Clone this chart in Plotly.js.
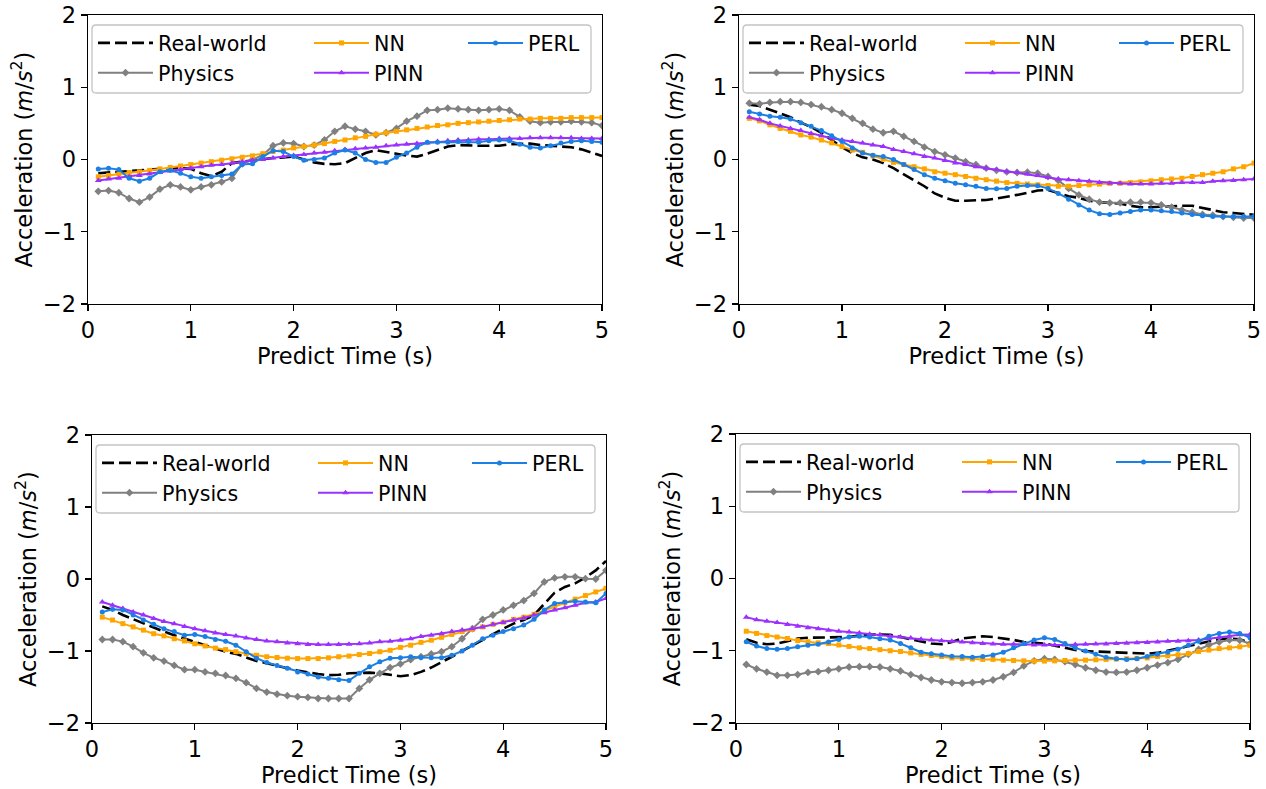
<!DOCTYPE html>
<html>
<head>
<meta charset="utf-8">
<script src="https://cdn.plot.ly/plotly-3.0.1.min.js"></script>
<style>html,body{margin:0;padding:0;background:#fff;}#chart{width:1266px;height:789px;}</style>
</head>
<body>
<div id="chart"></div>
<script>
// ---- data ----
const time = [0.1,0.2,0.3,0.4,0.5,0.6,0.7,0.8,0.9,1.0,1.1,1.2,1.3,1.4,1.5,1.6,1.7,1.8,1.9,2.0,2.1,2.2,2.3,2.4,2.5,2.6,2.7,2.8,2.9,3.0,3.1,3.2,3.3,3.4,3.5,3.6,3.7,3.8,3.9,4.0,4.1,4.2,4.3,4.4,4.5,4.6,4.7,4.8,4.9,5.0];
const seriesNames = ["Real-world","Physics","NN","PINN","PERL"];

const real1 = [-0.19,-0.18,-0.18,-0.17,-0.15,-0.14,-0.13,-0.12,-0.12,-0.13,-0.19,-0.23,-0.17,-0.05,-0.03,-0.01,0.0,0.02,0.03,0.04,0.0,-0.04,-0.06,-0.065,-0.05,0.02,0.09,0.13,0.11,0.08,0.055,0.04,0.08,0.13,0.18,0.2,0.19,0.19,0.19,0.19,0.21,0.22,0.22,0.2,0.19,0.18,0.17,0.14,0.09,0.05];
const phys1 = [-0.44,-0.43,-0.46,-0.54,-0.59,-0.52,-0.41,-0.35,-0.38,-0.42,-0.38,-0.35,-0.31,-0.26,-0.06,0.0,0.06,0.19,0.23,0.22,0.18,0.2,0.27,0.39,0.46,0.42,0.39,0.34,0.37,0.43,0.53,0.6,0.68,0.69,0.71,0.7,0.69,0.68,0.69,0.7,0.68,0.59,0.53,0.51,0.52,0.52,0.53,0.52,0.51,0.47];
const nn1 = [-0.24,-0.22,-0.2,-0.18,-0.17,-0.15,-0.13,-0.11,-0.09,-0.07,-0.05,-0.03,-0.01,0.01,0.03,0.05,0.08,0.11,0.13,0.16,0.18,0.2,0.22,0.25,0.27,0.3,0.32,0.35,0.37,0.39,0.41,0.43,0.45,0.47,0.48,0.5,0.51,0.52,0.53,0.54,0.55,0.56,0.56,0.57,0.57,0.57,0.58,0.58,0.58,0.58];
const pinn1 = [-0.29,-0.27,-0.26,-0.24,-0.22,-0.2,-0.18,-0.16,-0.14,-0.12,-0.1,-0.08,-0.07,-0.05,-0.03,-0.01,0.0,0.02,0.04,0.055,0.07,0.09,0.1,0.12,0.14,0.15,0.16,0.17,0.19,0.2,0.21,0.22,0.23,0.25,0.26,0.27,0.27,0.28,0.28,0.29,0.29,0.29,0.3,0.3,0.3,0.3,0.3,0.29,0.29,0.29];
const perl1 = [-0.13,-0.12,-0.14,-0.26,-0.3,-0.26,-0.17,-0.15,-0.19,-0.24,-0.26,-0.24,-0.22,-0.2,-0.07,-0.06,0.04,0.12,0.11,0.04,-0.01,0.0,0.02,0.09,0.13,0.09,0.0,-0.04,-0.04,0.03,0.09,0.17,0.24,0.24,0.24,0.25,0.25,0.24,0.26,0.27,0.26,0.21,0.17,0.16,0.19,0.23,0.25,0.26,0.25,0.24];

const real2 = [0.76,0.74,0.69,0.64,0.585,0.51,0.45,0.37,0.27,0.17,0.09,0.03,0.0,-0.05,-0.12,-0.21,-0.29,-0.37,-0.47,-0.53,-0.57,-0.57,-0.57,-0.56,-0.54,-0.52,-0.49,-0.46,-0.43,-0.42,-0.46,-0.51,-0.53,-0.57,-0.59,-0.6,-0.61,-0.64,-0.66,-0.66,-0.65,-0.64,-0.64,-0.64,-0.67,-0.71,-0.73,-0.74,-0.75,-0.765];
const phys2 = [0.78,0.77,0.79,0.8,0.8,0.79,0.76,0.73,0.69,0.64,0.57,0.5,0.42,0.37,0.39,0.32,0.25,0.17,0.11,0.065,0.02,-0.03,-0.07,-0.12,-0.15,-0.17,-0.18,-0.175,-0.19,-0.235,-0.29,-0.4,-0.49,-0.55,-0.59,-0.6,-0.6,-0.59,-0.59,-0.6,-0.63,-0.66,-0.7,-0.73,-0.76,-0.77,-0.79,-0.8,-0.81,-0.81];
const nn2 = [0.57,0.535,0.48,0.43,0.39,0.34,0.31,0.27,0.23,0.18,0.13,0.1,0.05,0.005,-0.04,-0.07,-0.1,-0.13,-0.17,-0.19,-0.21,-0.235,-0.26,-0.28,-0.3,-0.32,-0.33,-0.34,-0.35,-0.36,-0.37,-0.37,-0.36,-0.35,-0.34,-0.33,-0.33,-0.32,-0.31,-0.295,-0.28,-0.27,-0.26,-0.235,-0.21,-0.19,-0.17,-0.13,-0.1,-0.05];
const pinn2 = [0.585,0.55,0.5,0.465,0.43,0.4,0.36,0.33,0.295,0.27,0.25,0.23,0.2,0.18,0.14,0.11,0.08,0.04,0.02,-0.015,-0.05,-0.07,-0.1,-0.12,-0.14,-0.17,-0.18,-0.2,-0.22,-0.25,-0.27,-0.28,-0.295,-0.3,-0.32,-0.33,-0.33,-0.34,-0.34,-0.34,-0.33,-0.33,-0.32,-0.32,-0.32,-0.3,-0.295,-0.29,-0.28,-0.27];
const perl2 = [0.66,0.63,0.6,0.585,0.56,0.51,0.46,0.4,0.33,0.25,0.16,0.09,0.06,0.04,0.0,-0.07,-0.14,-0.21,-0.26,-0.295,-0.33,-0.35,-0.37,-0.4,-0.405,-0.4,-0.37,-0.36,-0.365,-0.4,-0.47,-0.55,-0.63,-0.7,-0.75,-0.76,-0.74,-0.72,-0.7,-0.7,-0.71,-0.72,-0.74,-0.76,-0.78,-0.79,-0.79,-0.79,-0.79,-0.79];

const real3 = [-0.38,-0.43,-0.5,-0.56,-0.62,-0.67,-0.73,-0.78,-0.83,-0.87,-0.92,-0.965,-1.01,-1.04,-1.09,-1.14,-1.17,-1.21,-1.24,-1.27,-1.3,-1.32,-1.335,-1.33,-1.31,-1.3,-1.3,-1.31,-1.335,-1.35,-1.335,-1.29,-1.23,-1.16,-1.08,-1.0,-0.92,-0.84,-0.76,-0.69,-0.62,-0.57,-0.5,-0.35,-0.19,-0.11,-0.06,0.02,0.12,0.25];
const phys3 = [-0.84,-0.84,-0.87,-0.94,-1.025,-1.095,-1.14,-1.2,-1.26,-1.26,-1.29,-1.31,-1.34,-1.38,-1.44,-1.52,-1.57,-1.6,-1.62,-1.635,-1.645,-1.66,-1.66,-1.66,-1.66,-1.52,-1.4,-1.31,-1.23,-1.18,-1.12,-1.08,-1.04,-1.01,-0.94,-0.83,-0.69,-0.56,-0.5,-0.43,-0.365,-0.3,-0.2,-0.04,0.015,0.03,0.03,0.005,0.0,0.12];
const nn3 = [-0.53,-0.57,-0.62,-0.665,-0.71,-0.76,-0.79,-0.83,-0.86,-0.9,-0.93,-0.96,-0.98,-1.01,-1.035,-1.06,-1.08,-1.09,-1.1,-1.105,-1.105,-1.105,-1.095,-1.08,-1.07,-1.05,-1.035,-1.01,-0.99,-0.95,-0.92,-0.88,-0.85,-0.81,-0.77,-0.73,-0.7,-0.665,-0.63,-0.6,-0.56,-0.53,-0.49,-0.44,-0.38,-0.33,-0.28,-0.23,-0.18,-0.13];
const pinn3 = [-0.32,-0.365,-0.41,-0.46,-0.5,-0.55,-0.59,-0.62,-0.66,-0.69,-0.72,-0.75,-0.77,-0.79,-0.82,-0.84,-0.86,-0.87,-0.89,-0.9,-0.91,-0.91,-0.91,-0.91,-0.905,-0.9,-0.89,-0.87,-0.865,-0.85,-0.83,-0.8,-0.78,-0.76,-0.73,-0.71,-0.69,-0.665,-0.63,-0.605,-0.57,-0.54,-0.5,-0.47,-0.43,-0.4,-0.365,-0.33,-0.32,-0.27];
const perl3 = [-0.46,-0.42,-0.43,-0.5,-0.57,-0.63,-0.69,-0.73,-0.78,-0.77,-0.8,-0.84,-0.865,-0.92,-1.01,-1.1,-1.16,-1.2,-1.24,-1.29,-1.32,-1.36,-1.38,-1.4,-1.41,-1.31,-1.22,-1.15,-1.1,-1.095,-1.08,-1.09,-1.095,-1.095,-1.06,-1.0,-0.92,-0.83,-0.78,-0.73,-0.69,-0.64,-0.56,-0.43,-0.34,-0.32,-0.31,-0.32,-0.33,-0.2];

const real4 = [-0.84,-0.89,-0.91,-0.9,-0.87,-0.83,-0.82,-0.815,-0.815,-0.815,-0.81,-0.79,-0.775,-0.775,-0.78,-0.81,-0.84,-0.88,-0.9,-0.91,-0.88,-0.83,-0.81,-0.8,-0.81,-0.825,-0.85,-0.88,-0.89,-0.9,-0.93,-0.96,-0.99,-1.005,-1.01,-1.01,-1.02,-1.03,-1.03,-1.04,-1.03,-1.005,-0.97,-0.935,-0.9,-0.87,-0.84,-0.83,-0.84,-0.89];
const phys4 = [-1.19,-1.25,-1.295,-1.34,-1.34,-1.33,-1.3,-1.29,-1.27,-1.25,-1.225,-1.22,-1.22,-1.225,-1.25,-1.28,-1.33,-1.37,-1.405,-1.43,-1.44,-1.45,-1.44,-1.43,-1.405,-1.36,-1.3,-1.21,-1.14,-1.11,-1.12,-1.15,-1.19,-1.235,-1.27,-1.295,-1.3,-1.295,-1.27,-1.235,-1.2,-1.165,-1.12,-1.05,-0.98,-0.92,-0.88,-0.85,-0.855,-0.9];
const nn4 = [-0.73,-0.76,-0.79,-0.81,-0.83,-0.86,-0.875,-0.89,-0.9,-0.92,-0.94,-0.96,-0.97,-0.985,-1.0,-1.01,-1.03,-1.05,-1.065,-1.08,-1.1,-1.105,-1.115,-1.12,-1.12,-1.13,-1.135,-1.14,-1.143,-1.143,-1.14,-1.135,-1.13,-1.13,-1.125,-1.12,-1.115,-1.11,-1.105,-1.1,-1.08,-1.07,-1.055,-1.04,-1.01,-0.99,-0.97,-0.96,-0.945,-0.925];
const pinn4 = [-0.535,-0.57,-0.59,-0.61,-0.635,-0.66,-0.68,-0.695,-0.715,-0.73,-0.74,-0.755,-0.77,-0.78,-0.8,-0.81,-0.825,-0.84,-0.85,-0.86,-0.87,-0.88,-0.89,-0.9,-0.905,-0.91,-0.91,-0.915,-0.92,-0.92,-0.92,-0.92,-0.915,-0.91,-0.905,-0.905,-0.9,-0.895,-0.89,-0.885,-0.88,-0.87,-0.87,-0.86,-0.85,-0.835,-0.815,-0.8,-0.78,-0.775];
const perl4 = [-0.875,-0.935,-0.97,-0.98,-0.97,-0.945,-0.925,-0.91,-0.88,-0.845,-0.81,-0.8,-0.81,-0.835,-0.85,-0.9,-0.96,-1.02,-1.04,-1.06,-1.075,-1.08,-1.09,-1.08,-1.06,-1.02,-0.96,-0.9,-0.85,-0.82,-0.845,-0.9,-0.96,-1.005,-1.05,-1.09,-1.11,-1.12,-1.11,-1.08,-1.05,-1.02,-0.98,-0.925,-0.87,-0.8,-0.76,-0.74,-0.76,-0.82];

const xTickVals = [0,1,2,3,4,5];
const yTickVals = [-2,-1,0,1,2];
const xTitle = "Predict Time (s)";
const yTitle = "Acceleration (<i>m</i>/<i>s</i><sup>2</sup>)";

const panelData = [
  [real1, phys1, nn1, pinn1, perl1],
  [real2, phys2, nn2, pinn2, perl2],
  [real3, phys3, nn3, pinn3, perl3],
  [real4, phys4, nn4, pinn4, perl4]
];

// ---- styles ----
const W = 1266, H = 789;
const FONT = "DejaVu Sans, Liberation Sans, Arial, sans-serif";
const styles = [
  {color:"#000000", width:2.6, dash:"12px,5px", mode:"lines"},
  {color:"#808080", width:2, dash:"solid", mode:"lines+markers", symbol:"diamond", size:6},
  {color:"#FFA500", width:2, dash:"solid", mode:"lines+markers", symbol:"square", size:5},
  {color:"#9B30FF", width:2, dash:"solid", mode:"lines+markers", symbol:"triangle-up", size:6},
  {color:"#1B7FE3", width:2, dash:"solid", mode:"lines+markers", symbol:"circle", size:5}
];
const legendCol = [0,0,1,1,2];
const legendColOffsets = [10, 226, 380];

const boxes = [
  {l:88, r:602, t:15, b:304},
  {l:739, r:1254, t:15, b:304},
  {l:92, r:606, t:435, b:723},
  {l:736, r:1250, t:434, b:723}
];

const traces = [];
const layout = {
  width: W, height: H,
  margin: {l:0, r:0, t:0, b:0},
  paper_bgcolor: "#ffffff",
  plot_bgcolor: "#ffffff",
  font: {family: FONT, size: 22.5, color: "#000000"},
  showlegend: true,
  shapes: []
};

function px2x(p){ return p / W; }
function py2y(p){ return 1 - p / H; }

boxes.forEach((bx, i) => {
  const n = i + 1;
  const sfx = (n === 1 ? "" : String(n));
  const axisCommon = {
    showline: true, mirror: true, linecolor: "#000000", linewidth: 1.3,
    ticks: "outside", ticklen: 6, tickwidth: 1.3, tickcolor: "#000000",
    showgrid: false, zeroline: false, fixedrange: true,
    tickfont: {family: FONT, size: 22.5, color: "#000000"}
  };
  layout["xaxis" + sfx] = Object.assign({}, axisCommon, {
    domain: [px2x(bx.l), px2x(bx.r)],
    anchor: "y" + sfx,
    range: [0, 5], tickvals: xTickVals, ticktext: xTickVals.map(String),
    title: {text: xTitle, font: {family: FONT, size: 22.5, color: "#000000"}, standoff: 6}
  });
  layout["yaxis" + sfx] = Object.assign({}, axisCommon, {
    domain: [py2y(bx.b), py2y(bx.t)],
    anchor: "x" + sfx,
    range: [-2, 2], tickvals: yTickVals,
    title: {text: yTitle, font: {family: FONT, size: 22.5, color: "#000000"}, standoff: 4}
  });

  for (let c = 0; c < 3; c++) {
    const li = i * 3 + c + 1;
    const lname = "legend" + (li === 1 ? "" : li);
    layout[lname] = {
      x: px2x(bx.l + legendColOffsets[c] - 5), xanchor: "left",
      y: py2y(bx.t + 8), yanchor: "top",
      orientation: "v", bgcolor: "rgba(0,0,0,0)", borderwidth: 0,
      font: {family: FONT, size: 20.6, color: "#000000"},
      itemwidth: 55, traceorder: "normal"
    };
  }

  // legend frame (rounded)
  const x0 = bx.l + 4, x1 = bx.r - 11, y0 = bx.t + 10, y1 = bx.t + 78, r = 4;
  const P = (xx, yy) => px2x(xx).toFixed(5) + "," + py2y(yy).toFixed(5);
  const path = "M" + P(x0 + r, y0) + " L" + P(x1 - r, y0) + " Q" + P(x1, y0) + " " + P(x1, y0 + r) +
    " L" + P(x1, y1 - r) + " Q" + P(x1, y1) + " " + P(x1 - r, y1) +
    " L" + P(x0 + r, y1) + " Q" + P(x0, y1) + " " + P(x0, y1 - r) +
    " L" + P(x0, y0 + r) + " Q" + P(x0, y0) + " " + P(x0 + r, y0) + " Z";
  layout.shapes.push({
    type: "path", xref: "paper", yref: "paper", path: path,
    fillcolor: "rgba(255,255,255,0.8)", line: {color: "#c4c4c4", width: 1.3}, layer: "above"
  });

  panelData[i].forEach((vals, s) => {
    const st = styles[s];
    const li = i * 3 + legendCol[s] + 1;
    const t = {
      type: "scatter", mode: st.mode, name: seriesNames[s],
      x: time, y: vals,
      xaxis: "x" + sfx, yaxis: "y" + sfx,
      legend: "legend" + (li === 1 ? "" : li),
      line: {color: st.color, width: st.width, dash: st.dash},
      hoverinfo: "skip"
    };
    if (st.symbol) t.marker = {symbol: st.symbol, size: st.size, color: st.color};
    traces.push(t);
  });
});

Plotly.newPlot("chart", traces, layout, {displayModeBar: false, staticPlot: true});
</script>
</body>
</html>
